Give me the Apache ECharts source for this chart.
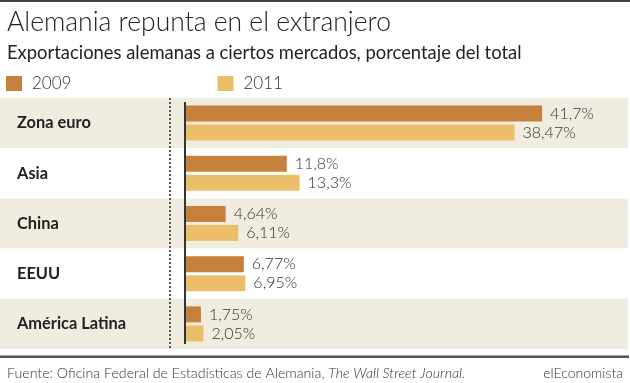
<!DOCTYPE html>
<html>
<head>
<meta charset="utf-8">
<script src="https://cdn.jsdelivr.net/npm/echarts@6/dist/echarts.min.js"></script>
<style>html,body{margin:0;padding:0;background:#fff}#c{width:630px;height:383px}</style>
</head>
<body>
<div id="c"></div>
<script>
const categories = ['Zona euro', 'Asia', 'China', 'EEUU', 'América Latina'];
const values2009 = [41.7, 11.8, 4.64, 6.77, 1.75];
const values2011 = [38.47, 13.3, 6.11, 6.95, 2.05];
const labels2009 = ['41,7%', '11,8%', '4,64%', '6,77%', '1,75%'];
const labels2011 = ['38,47%', '13,3%', '6,11%', '6,95%', '2,05%'];
const seriesNames = ['2009', '2011'];

const C2009 = '#c5803c';
const C2011 = '#ebbf69';
const BAND = '#f0ede0';
const FONT = 'Lato, "Open Sans", sans-serif';

const chart = echarts.init(document.getElementById('c'), null, {renderer: 'canvas'});
const lbl = (arr) => ({
  show: true, position: 'right', distance: 8,
  formatter: (p) => arr[p.dataIndex],
  fontFamily: FONT, fontSize: 16, fontWeight: 300, color: '#333'
});
chart.setOption({
  animation: false,
  textStyle: {fontFamily: FONT},
  title: [
    {text: 'Alemania repunta en el extranjero', left: 2, top: 4,
     textStyle: {fontFamily: FONT, fontSize: 26.5, fontWeight: 300, color: '#222'}},
    {text: 'Exportaciones alemanas a ciertos mercados, porcentaje del total', left: 2, top: 39,
     textStyle: {fontFamily: FONT, fontSize: 18.4, fontWeight: 'normal', color: '#222'}},
    {text: '{n|Fuente: Oficina Federal de Estadísticas de Alemania, }{i|The Wall Street Journal.}', left: 2, top: 361,
     textStyle: {rich: {
       n: {fontFamily: FONT, fontSize: 14.2, fontWeight: 300, color: '#333'},
       i: {fontFamily: FONT, fontSize: 14.2, fontWeight: 300, fontStyle: 'italic', color: '#333'}}}},
    {text: 'elEconomista', right: 2, top: 361,
     textStyle: {fontFamily: FONT, fontSize: 14, fontWeight: 300, color: '#333'}}
  ],
  legend: {
    left: 1, top: 70, itemWidth: 16, itemHeight: 15, itemGap: 146, icon: 'rect',
    data: seriesNames,
    textStyle: {fontFamily: FONT, fontSize: 17, fontWeight: 300, color: '#333', padding: [0, 0, 0, 5]}
  },
  grid: [
    {left: 186, right: 17, top: 98, height: 251, containLabel: false},
    {left: 0, right: 2, top: 98, height: 251, containLabel: false}
  ],
  xAxis: [
    {type: 'value', gridIndex: 0, min: 0, max: 50, show: false},
    {type: 'value', gridIndex: 1, min: 0, max: 1, show: false}
  ],
  yAxis: [
    {type: 'category', gridIndex: 0, data: categories, inverse: true, z: 5,
     axisLine: {show: false}, axisTick: {show: false}, splitLine: {show: false},
     axisLabel: {align: 'left', margin: 169, fontFamily: FONT, fontSize: 16.4, fontWeight: 'bold', color: '#222'}},
    {type: 'category', gridIndex: 1, data: categories, inverse: true, z: 0,
     axisLine: {show: false}, axisTick: {show: false}, axisLabel: {show: false},
     splitLine: {show: false},
     splitArea: {show: true, areaStyle: {color: [BAND, '#ffffff']}}}
  ],
  series: [
    {name: seriesNames[0], type: 'bar', xAxisIndex: 0, yAxisIndex: 0, data: values2009,
     barWidth: 16, barGap: '19%', itemStyle: {color: C2009}, label: lbl(labels2009)},
    {name: seriesNames[1], type: 'bar', xAxisIndex: 0, yAxisIndex: 0, data: values2011,
     barWidth: 16, barGap: '19%', itemStyle: {color: C2011}, label: lbl(labels2011)}
  ],
  graphic: [
    {type: 'rect', shape: {x: 0, y: 0, width: 630, height: 2}, style: {fill: '#444'}},
    {type: 'rect', shape: {x: 0, y: 355.5, width: 629, height: 2.5}, style: {fill: '#555'}},
    {type: 'line', shape: {x1: 170, y1: 98, x2: 170, y2: 349}, style: {stroke: '#555', lineWidth: 2, lineDash: [2, 2]}, z: 10},
    {type: 'line', shape: {x1: 185, y1: 102, x2: 185, y2: 344}, style: {stroke: '#333', lineWidth: 2}, z: 10}
  ]
});
</script>
</body>
</html>
